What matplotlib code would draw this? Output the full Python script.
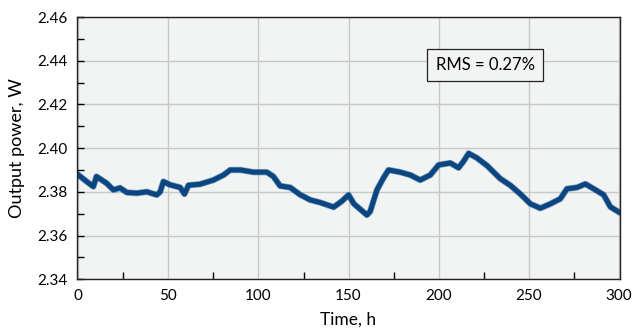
import matplotlib
matplotlib.use('Agg')
import matplotlib.pyplot as plt
from matplotlib.ticker import MultipleLocator

# values
time_h = [0, 4.6, 8.3, 10, 11.9, 15.7, 19.4, 23.1, 26.9, 32.4, 38, 43.5, 45.4, 47.2,
          50.9, 56.5, 58.9, 61.1, 67.6, 75, 80.6, 84.3, 90, 97.2, 104.6, 108.3,
          112, 117.6, 123.1, 128.7, 134.3, 141.7, 146.3, 150, 153, 160.2, 162,
          165.8, 169.5, 172.2, 178.7, 184.3, 189.8, 195.4, 200, 206.5, 211.1,
          213.9, 216.7, 221.3, 226.9, 234.3, 239.8, 245.4, 251, 256.5, 262.1,
          267.6, 271.3, 276.9, 281.5, 286.1, 291.7, 295.4, 300]
power_w = [2.3877, 2.3847, 2.3824, 2.3870, 2.3860, 2.3839, 2.3809, 2.3818, 2.3797,
           2.3794, 2.3800, 2.3786, 2.3800, 2.3847, 2.3832, 2.3820, 2.3790, 2.3830,
           2.3835, 2.3854, 2.3877, 2.3900, 2.3900, 2.3890, 2.3890, 2.3870, 2.3827,
           2.3820, 2.3787, 2.3763, 2.3751, 2.3730, 2.3757, 2.3786, 2.3745, 2.3694,
           2.3710, 2.3809, 2.3865, 2.3900, 2.3890, 2.3877, 2.3854, 2.3877, 2.3923,
           2.3932, 2.3910, 2.3940, 2.3976, 2.3955, 2.3920, 2.3860, 2.3830, 2.3790,
           2.3745, 2.3725, 2.3745, 2.3768, 2.3814, 2.3820, 2.3836, 2.3814, 2.3786,
           2.3731, 2.3708]
rms_label = 'RMS = 0.27%'

plt.rcParams['font.family'] = ['Lato', 'DejaVu Sans']

fig = plt.figure(figsize=(6.33, 3.34), dpi=100)
ax = fig.add_axes([0.1216, 0.164, 0.858, 0.785])
ax.set_facecolor('#f2f3f3')

ax.plot(time_h, power_w, color='#3f6f9f', linewidth=4.6, alpha=0.6)
ax.plot(time_h, power_w, color='#0b4680', linewidth=3.6)

ax.set_xlim(-0.8, 300.8)
ax.set_ylim(2.34, 2.46)
ax.xaxis.set_major_locator(MultipleLocator(50))
ax.xaxis.set_minor_locator(MultipleLocator(25))
ax.yaxis.set_minor_locator(MultipleLocator(0.01))
ax.set_yticks([2.34, 2.36, 2.38, 2.40, 2.42, 2.44, 2.46])
ax.set_yticklabels(['2.34', '2.36', '2.38', '2.40', '2.42', '2.44', '2.46'])
ax.grid(True, which='major', color='#c8c8c8', linewidth=1)
ax.set_axisbelow(True)
ax.tick_params(which='both', direction='in', length=5, width=1, labelsize=11, pad=7)
ax.tick_params(which='major', length=0)
ax.tick_params(axis='y', which='major', length=5)
for spine in ax.spines.values():
    spine.set_color('#222222')
    spine.set_linewidth(1)

ax.set_xlabel('Time, h', fontsize=12.5, labelpad=6)
ax.set_ylabel('Output power, W', fontsize=13, labelpad=9)

ax.text(225.8, 2.438, rms_label, fontsize=12, ha='center', va='center',
        bbox={'boxstyle': 'square,pad=0.5', 'facecolor': '#f2f3f3',
              'edgecolor': '#222222', 'linewidth': 0.9})

plt.savefig('out.png', dpi=100)
plt.close(fig)
